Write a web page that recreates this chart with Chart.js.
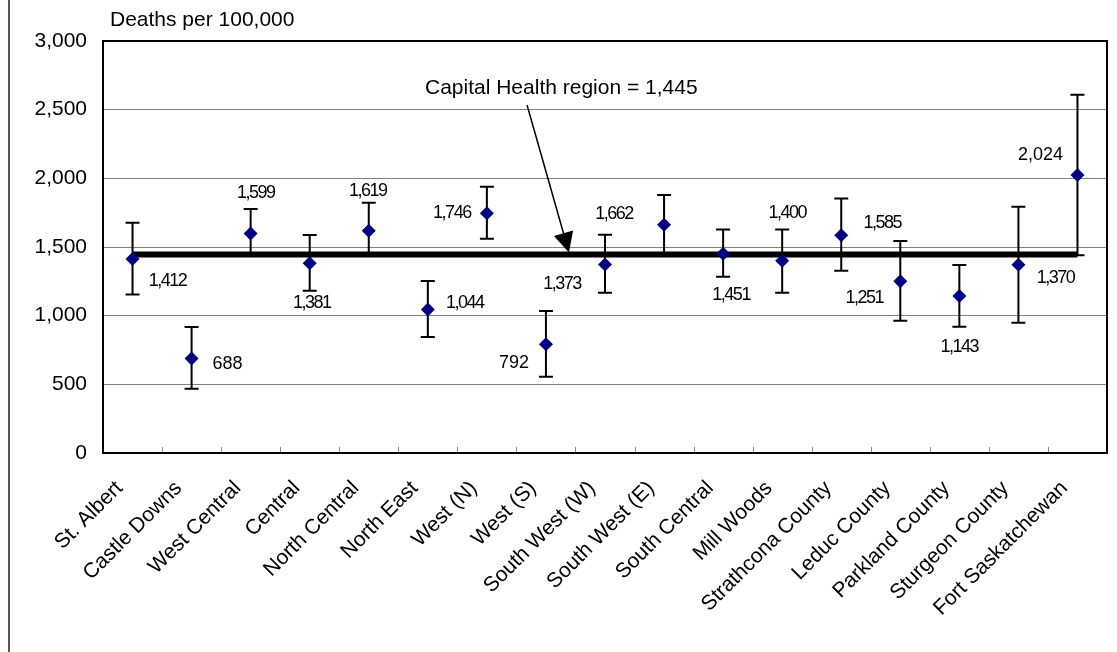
<!DOCTYPE html>
<html>
<head>
<meta charset="utf-8">
<title>Deaths per 100,000 by region</title>
<script src="https://cdn.jsdelivr.net/npm/chart.js@4/dist/chart.umd.min.js"></script>
<style>
  html, body { margin: 0; padding: 0; background: #fff; }
  #wrap { width: 1117px; height: 652px; position: relative; }
</style>
</head>
<body>
<div id="wrap"><canvas id="deathsChart" width="1117" height="652"></canvas></div>
<script>
// Regions and rates (deaths per 100,000) with confidence limits
const regions = [
  "St. Albert", "Castle Downs", "West Central", "Central", "North Central",
  "North East", "West (N)", "West (S)", "South West (W)", "South West (E)",
  "South Central", "Mill Woods", "Strathcona County", "Leduc County",
  "Parkland County", "Sturgeon County", "Fort Saskatchewan"
];
const rates  = [1412, 688, 1599, 1381, 1619, 1044, 1746, 792, 1373, 1662, 1451, 1400, 1585, 1251, 1143, 1370, 2024];
const ciLow  = [1155, 468, 1440, 1182, 1440, 844, 1560, 556, 1167, 1440, 1284, 1167, 1327, 963, 920, 949, 1440];
const ciHigh = [1676, 917, 1776, 1587, 1822, 1252, 1939, 1034, 1589, 1878, 1628, 1628, 1854, 1543, 1369, 1793, 2608];
const regionAverage = 1445;
const yMax = 3000;
const yStep = 500;

// where each value label sits, offset from its point in px
const labelOffsets = [
  [35, 22], [36, 6], [5, -40], [2, 40], [-1, -40], [37, -7], [-35, 0], [-32, 19], [-43, 20],
  [-50, -11], [8, 41], [5, -48], [41, -12], [-36, 17], [0, 51], [37, 13], [-37, -20]
];

const FONT = "'Liberation Sans', Arial, sans-serif";

function fmt(v) {
  return v.toLocaleString("en-US");
}

// error bars underneath the lines and markers, labels / arrow / frame on top
const extras = {
  id: "extras",
  beforeDatasetsDraw(chart) {
    const ctx = chart.ctx;
    const x = chart.scales.x, y = chart.scales.y;
    ctx.save();
    ctx.strokeStyle = "#000";
    ctx.lineWidth = 2;
    for (let i = 0; i < rates.length; i++) {
      const px = x.getPixelForValue(i);
      const yl = y.getPixelForValue(ciLow[i]);
      const yh = y.getPixelForValue(ciHigh[i]);
      ctx.beginPath();
      ctx.moveTo(px, yl); ctx.lineTo(px, yh);
      ctx.moveTo(px - 7, yl); ctx.lineTo(px + 7, yl);
      ctx.moveTo(px - 7, yh); ctx.lineTo(px + 7, yh);
      ctx.stroke();
    }
    ctx.restore();
  },
  afterDatasetsDraw(chart) {
    const ctx = chart.ctx;
    const x = chart.scales.x, y = chart.scales.y;
    const area = chart.chartArea;
    // position along the category axis, in fractional category units
    const catX = c => x.getPixelForValue(0) + (x.getPixelForValue(1) - x.getPixelForValue(0)) * c;
    ctx.save();

    // small category ticks pointing into the plot
    ctx.strokeStyle = "#808080";
    ctx.lineWidth = 1;
    for (let i = 0; i < regions.length - 1; i++) {
      const bx = Math.round(catX(i + 0.5)) + 0.5;
      ctx.beginPath();
      ctx.moveTo(bx, area.bottom);
      ctx.lineTo(bx, area.bottom - 6);
      ctx.stroke();
    }

    // plot frame
    ctx.strokeStyle = "#000";
    ctx.lineWidth = 2;
    ctx.strokeRect(area.left, area.top, area.right - area.left, area.bottom - area.top);

    // value labels
    ctx.fillStyle = "#000";
    ctx.font = "18px " + FONT;
    ctx.textAlign = "center";
    ctx.textBaseline = "middle";
    for (let i = 0; i < rates.length; i++) {
      const txt = fmt(rates[i]);
      ctx.letterSpacing = txt.startsWith("1") ? "-1.5px" : "0px";
      ctx.fillText(txt, x.getPixelForValue(i) + labelOffsets[i][0], y.getPixelForValue(rates[i]) + labelOffsets[i][1]);
    }
    ctx.letterSpacing = "0px";

    // arrow pointing at the region line
    const tx = catX(6.68), ty = y.getPixelForValue(2534);
    const hx = catX(7.39), hy = y.getPixelForValue(regionAverage) - 2;
    const ang = Math.atan2(hy - ty, hx - tx);
    const headLen = 20, headHalf = 10;
    const bx = hx - headLen * Math.cos(ang), by = hy - headLen * Math.sin(ang);
    ctx.strokeStyle = "#000";
    ctx.lineWidth = 1.5;
    ctx.beginPath();
    ctx.moveTo(tx, ty);
    ctx.lineTo(bx, by);
    ctx.stroke();
    ctx.beginPath();
    ctx.moveTo(hx, hy);
    ctx.lineTo(bx + headHalf * Math.sin(ang), by - headHalf * Math.cos(ang));
    ctx.lineTo(bx - headHalf * Math.sin(ang), by + headHalf * Math.cos(ang));
    ctx.closePath();
    ctx.fill();

    ctx.font = "21px " + FONT;
    ctx.textAlign = "center";
    ctx.fillText("Capital Health region = " + fmt(regionAverage), catX(7.26), y.getPixelForValue(2658));

    // axis title above the plot
    ctx.textAlign = "left";
    ctx.font = "21px " + FONT;
    ctx.fillText("Deaths per 100,000", area.left + 7, 20);

    // outer frame edge on the left
    ctx.strokeStyle = "#555";
    ctx.lineWidth = 2;
    ctx.beginPath();
    ctx.moveTo(9, 0);
    ctx.lineTo(9, chart.height);
    ctx.stroke();

    ctx.restore();
  }
};

const ctx = document.getElementById("deathsChart").getContext("2d");
const chart = new Chart(ctx, {
  type: "line",
  data: {
    labels: regions,
    datasets: [
      {
        label: "Rate",
        data: rates,
        showLine: false,
        pointStyle: "rectRot",
        pointRadius: 7,
        pointBackgroundColor: "#000080",
        pointBorderWidth: 0,
        order: 1
      },
      {
        label: "Capital Health region",
        data: regions.map(() => regionAverage),
        borderColor: "#000",
        borderWidth: 6,
        pointRadius: 0,
        fill: false,
        order: 2
      }
    ]
  },
  options: {
    responsive: false,
    animation: false,
    layout: { padding: { top: 41, right: 10, left: 0, bottom: 0 } },
    plugins: {
      legend: { display: false },
      tooltip: { enabled: false }
    },
    scales: {
      x: {
        offset: true,
        grid: { display: false },
        border: { display: false },
        ticks: {
          color: "#000",
          font: { family: FONT, size: 21 },
          minRotation: 45,
          maxRotation: 45,
          autoSkip: false,
          padding: 15,
          labelOffset: -13
        },
        afterFit(scale) { scale.height = 199; }
      },
      y: {
        min: 0,
        max: yMax,
        ticks: {
          stepSize: yStep,
          color: "#000",
          font: { family: FONT, size: 21 },
          padding: 16,
          callback: v => fmt(v)
        },
        grid: { color: "#808080", lineWidth: 1, drawTicks: false },
        border: { display: false },
        afterFit(scale) { scale.width = 103; }
      }
    }
  },
  plugins: [extras]
});
</script>
</body>
</html>
